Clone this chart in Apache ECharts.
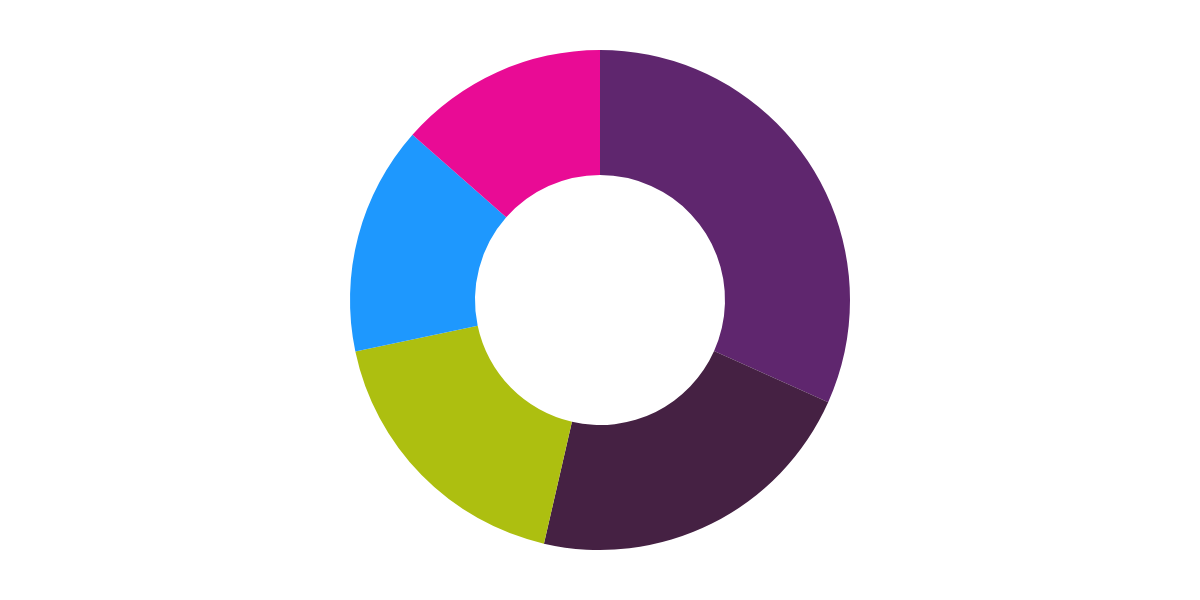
<!DOCTYPE html>
<html>
<head>
<meta charset="utf-8">
<script src="https://cdn.jsdelivr.net/npm/echarts@6/dist/echarts.min.js"></script>
<style>
  html, body { margin: 0; padding: 0; background: #fff; }
  #chart { width: 1200px; height: 600px; }
</style>
</head>
<body>
<div id="chart"></div>
<script>
// slice data, clockwise from 12 o'clock
const names = ['A', 'B', 'C', 'D', 'E'];
const values = [31.7, 21.9, 18.1, 14.8, 13.5];
const colors = ['#5f266e', '#452143', '#adbf10', '#1e98fe', '#e90b95'];

const chart = echarts.init(document.getElementById('chart'));

chart.setOption({
    backgroundColor: '#ffffff',
    animation: false,
    series: [{
        type: 'pie',
        center: ['50%', '50%'],
        radius: [125, 250],
        startAngle: 90,
        clockwise: true,
        avoidLabelOverlap: false,
        label: { show: false },
        labelLine: { show: false },
        itemStyle: { borderWidth: 0 },
        data: names.map((n, i) => ({ name: n, value: values[i], itemStyle: { color: colors[i] } }))
    }]
});
</script>
</body>
</html>
